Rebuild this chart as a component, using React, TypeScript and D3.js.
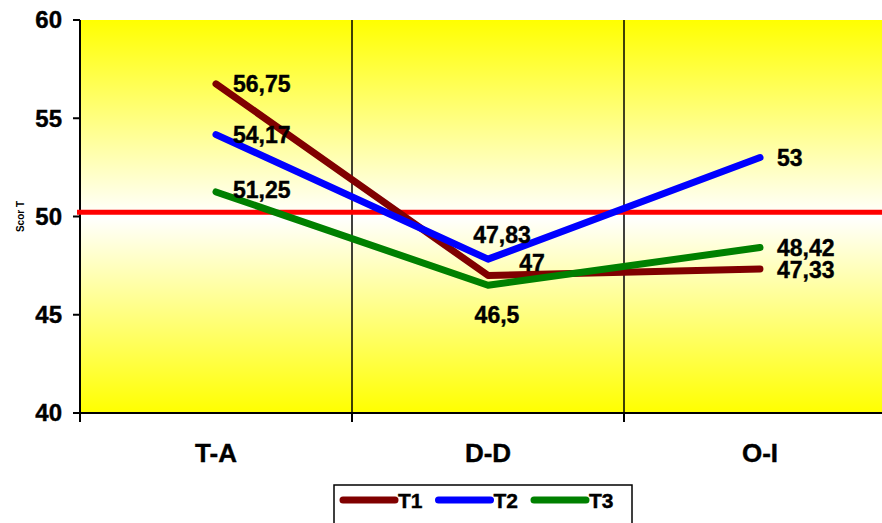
import React from "react";
import * as d3 from "d3";

const categories = ["T-A", "D-D", "O-I"];
const seriesNames = ["T1", "T2", "T3"];
const t1Values = [56.75, 47, 47.33];
const t2Values = [54.17, 47.83, 53];
const t3Values = [51.25, 46.5, 48.42];
const t1Labels = ["56,75", "47", "47,33"];
const t2Labels = ["54,17", "47,83", "53"];
const t3Labels = ["51,25", "46,5", "48,42"];
const yTicks = [40, 45, 50, 55, 60];
const referenceValue = 50.22;
const yTitle = "Scor T";

const colors = ["#800000", "#0000FF", "#008000"];
// label offsets [dx, dy, anchor] per series per category
const labelPlacement: [number, number, string][][] = [
  [[17, 0, "start"], [44, -13, "middle"], [17, 1, "start"]],
  [[17, 0, "start"], [14, -24, "middle"], [17, 0, "start"]],
  [[17, -2, "start"], [9, 30, "middle"], [17, 0, "start"]],
];

export default function App() {
  const W = 882, H = 523;
  const left = 80, top = 20, bottom = 413;
  const x = d3.scaleBand<string>().domain(categories).range([left, left + 272 * 3]);
  const y = d3.scaleLinear().domain([40, 60]).range([bottom, top]);
  const cx = (c: string) => (x(c) as number) + x.bandwidth() / 2;
  const series = [t1Values, t2Values, t3Values];
  const labels = [t1Labels, t2Labels, t3Labels];
  const line = d3
    .line<number>()
    .x((_, i) => cx(categories[i]))
    .y((v) => y(v));
  const font = "'Liberation Sans', Arial, sans-serif";
  const heavy = { stroke: "#000", strokeWidth: 0.4 };

  return (
    <svg
      width={W}
      height={H}
      style={{ position: "fixed", left: 0, top: 0, background: "#fff" }}
      fontFamily={font}
    >
      <defs>
        <linearGradient id="bg" x1="0" y1="0" x2="0" y2="1">
          <stop offset="0%" stopColor="#FFFF00" />
          <stop offset="50%" stopColor="#FFFFFF" />
          <stop offset="100%" stopColor="#FFFF00" />
        </linearGradient>
      </defs>
      <rect x={left} y={top} width={272 * 3} height={bottom - top} fill="url(#bg)" />
      {/* category separators */}
      {categories.slice(1).map((c) => (
        <line key={c} x1={x(c)} x2={x(c)} y1={top} y2={bottom} stroke="#000" strokeWidth={1.5} />
      ))}
      {/* y axis */}
      <line x1={left} x2={left} y1={top} y2={bottom + 9} stroke="#000" strokeWidth={2} />
      {yTicks.map((t) => (
        <g key={t}>
          <line x1={left - 7} x2={left} y1={y(t)} y2={y(t)} stroke="#000" strokeWidth={2} />
          <text
            x={62}
            y={y(t)}
            dy="0.35em"
            textAnchor="end"
            fontSize={24}
            fontWeight="bold"
            fill="#000"
            {...heavy}
          >
            {t}
          </text>
        </g>
      ))}
      <text
        transform={`translate(24,${y(50)}) rotate(-90)`}
        textAnchor="middle"
        fontSize={10}
        fontWeight="bold"
      >
        {yTitle}
      </text>
      {/* x axis */}
      <line x1={left} x2={W} y1={bottom} y2={bottom} stroke="#000" strokeWidth={2} />
      {categories.map((c) => (
        <g key={c}>
          <line x1={x(c)} x2={x(c)} y1={bottom} y2={bottom + 9} stroke="#000" strokeWidth={2} />
          <text
            x={cx(c)}
            y={453}
            dy="0.35em"
            textAnchor="middle"
            fontSize={26}
            fontWeight="bold"
            {...heavy}
          >
            {c}
          </text>
        </g>
      ))}
      {/* reference line */}
      <line x1={77} x2={W} y1={y(referenceValue)} y2={y(referenceValue)} stroke="#FF0000" strokeWidth={5} />
      {/* series */}
      {series.map((s, i) => (
        <path
          key={i}
          d={line(s) as string}
          fill="none"
          stroke={colors[i]}
          strokeWidth={7}
          strokeLinecap="round"
          strokeLinejoin="round"
        />
      ))}
      {series.map((s, i) =>
        s.map((v, j) => {
          const [dx, dy, anchor] = labelPlacement[i][j];
          return (
            <text
              key={`${i}-${j}`}
              x={cx(categories[j]) + dx}
              y={y(v) + dy}
              dy="0.35em"
              textAnchor={anchor}
              fontSize={23}
              fontWeight="bold"
              {...heavy}
            >
              {labels[i][j]}
            </text>
          );
        })
      )}
      {/* legend */}
      <rect x={334} y={485} width={298} height={50} fill="#fff" stroke="#000" strokeWidth={1.5} />
      {seriesNames.map((n, i) => {
        const lx = 340 + i * 95.5;
        return (
          <g key={n}>
            <line
              x1={lx + 3}
              x2={lx + 55}
              y1={500}
              y2={500}
              stroke={colors[i]}
              strokeWidth={7}
              strokeLinecap="round"
            />
            <text x={lx + 58} y={501} dy="0.35em" fontSize={21} fontWeight="bold" {...heavy}>
              {n}
            </text>
          </g>
        );
      })}
    </svg>
  );
}
